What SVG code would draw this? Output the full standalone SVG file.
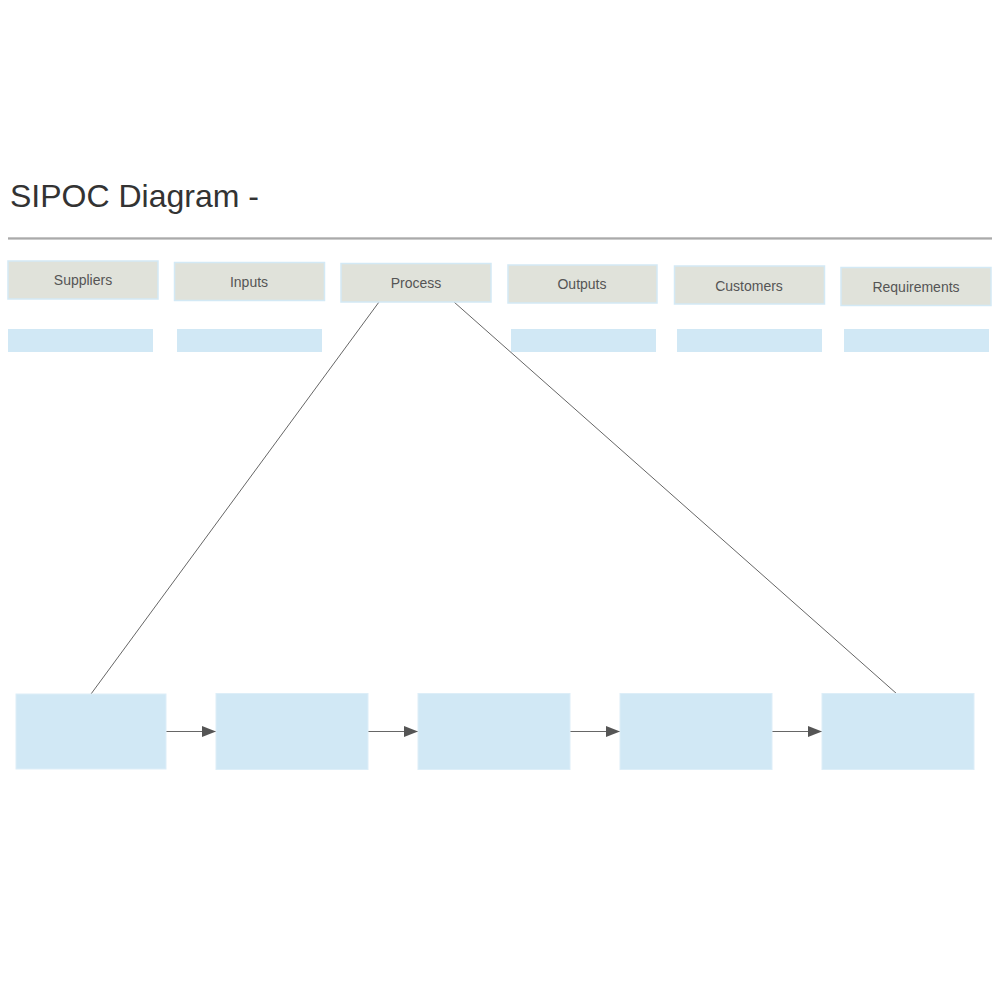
<svg xmlns="http://www.w3.org/2000/svg" width="1000" height="1000" viewBox="0 0 1000 1000">
<style>
.hdr{fill:#e0e2da;stroke:#d3e9f5;stroke-width:1.5}
.bar{fill:#d1e8f5}
.box{fill:#d1e8f5;stroke:#ddeef8;stroke-width:1}
.lbl{font-family:"Liberation Sans",Arial,sans-serif;font-size:14px;fill:#555;text-anchor:middle}
.con{stroke:#666;stroke-width:1;fill:none}
.arr{stroke:#666;stroke-width:1.2;fill:none}
</style>
<defs>
<marker id="ah" viewBox="0 0 14 11" refX="14" refY="5.5" markerWidth="14" markerHeight="11" markerUnits="userSpaceOnUse" orient="auto">
<path d="M0,0 L14,5.5 L0,11 z" fill="#555"/>
</marker>
</defs>
<rect width="1000" height="1000" fill="#fff"/>
<text x="10" y="207" font-family="'Liberation Sans',Arial,sans-serif" font-size="32" fill="#333">SIPOC Diagram -</text>
<line x1="8" y1="239" x2="992" y2="239" stroke="#ccc" stroke-width="2"/>
<line x1="8" y1="238" x2="992" y2="238" stroke="#888" stroke-width="1"/>
<g id="connectors">
<line class="con" x1="379" y1="302" x2="91" y2="694"/>
<line class="con" x1="454" y1="302" x2="897" y2="694"/>
<line class="arr" x1="166" y1="731.5" x2="216" y2="731.5" marker-end="url(#ah)"/>
<line class="arr" x1="368" y1="731.5" x2="418" y2="731.5" marker-end="url(#ah)"/>
<line class="arr" x1="570" y1="731.5" x2="620" y2="731.5" marker-end="url(#ah)"/>
<line class="arr" x1="772" y1="731.5" x2="822" y2="731.5" marker-end="url(#ah)"/>
</g>
<g id="suppliers"><rect class="hdr" x="8" y="261" width="150" height="38"/><text class="lbl" x="83" y="285">Suppliers</text></g>
<g id="inputs"><rect class="hdr" x="174.5" y="262.5" width="150" height="38"/><text class="lbl" x="249" y="287">Inputs</text></g>
<g id="process"><rect class="hdr" x="341" y="263.5" width="150" height="38.5"/><text class="lbl" x="416" y="288">Process</text></g>
<g id="outputs"><rect class="hdr" x="508" y="265" width="149" height="38"/><text class="lbl" x="582" y="289">Outputs</text></g>
<g id="customers"><rect class="hdr" x="674.5" y="266" width="150" height="38"/><text class="lbl" x="749" y="291">Customers</text></g>
<g id="requirements"><rect class="hdr" x="841" y="267.5" width="150" height="38"/><text class="lbl" x="916" y="292">Requirements</text></g>
<g id="bar1"><rect class="bar" x="8" y="329" width="145" height="23"/></g>
<g id="bar2"><rect class="bar" x="177" y="329" width="145" height="23"/></g>
<g id="bar3"><rect class="bar" x="511" y="329" width="145" height="23"/></g>
<g id="bar4"><rect class="bar" x="677" y="329" width="145" height="23"/></g>
<g id="bar5"><rect class="bar" x="844" y="329" width="145" height="23"/></g>
<g id="step1"><rect class="box" x="16" y="694" width="150" height="75"/></g>
<g id="step2"><rect class="box" x="216" y="693.5" width="152" height="76"/></g>
<g id="step3"><rect class="box" x="418" y="693.5" width="152" height="76"/></g>
<g id="step4"><rect class="box" x="620" y="693.5" width="152" height="76"/></g>
<g id="step5"><rect class="box" x="822" y="693.5" width="152" height="76"/></g>
</svg>
